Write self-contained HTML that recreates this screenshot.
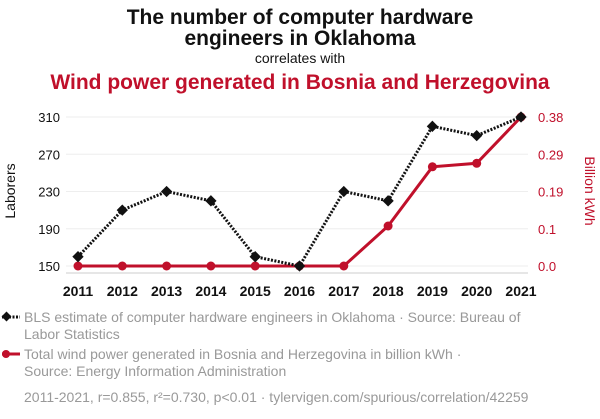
<!DOCTYPE html>
<html><head><meta charset="utf-8"><style>
body{margin:0;background:#fff;font-family:"Liberation Sans",sans-serif;}
svg text{font-family:"Liberation Sans",sans-serif;}
</style></head><body>
<svg width="600" height="414">
<text x="300" y="24" text-anchor="middle" font-size="21" font-weight="bold" fill="#111">The number of computer hardware</text>
<text x="300" y="45" text-anchor="middle" font-size="21" font-weight="bold" fill="#111">engineers in Oklahoma</text>
<text x="300" y="63" text-anchor="middle" font-size="14" fill="#111">correlates with</text>
<text x="300" y="89" text-anchor="middle" font-size="21" font-weight="bold" fill="#c0102b">Wind power generated in Bosnia and Herzegovina</text>
<g id="grid"></g>
<line x1="66" y1="273" x2="528" y2="273" stroke="#ccc"/>
<g id="marks"></g>
<text transform="translate(15,191) rotate(-90)" text-anchor="middle" font-size="14" fill="#111">Laborers</text>
<text transform="translate(585,191) rotate(90)" text-anchor="middle" font-size="14" fill="#c0102b">Billion kWh</text>
<g>
<line x1="2" y1="317" x2="20" y2="317" stroke="#111" stroke-width="3" stroke-dasharray="2,1.5"/>
<rect x="3" y="313" width="7" height="7" transform="rotate(45 6.5 316.5)" fill="#111"/>
<text x="24" y="322" font-size="14" fill="#999">BLS estimate of computer hardware engineers in Oklahoma · Source: Bureau of</text>
<text x="24" y="339" font-size="14" fill="#999">Labor Statistics</text>
</g>
<g>
<line x1="2" y1="354" x2="20" y2="354" stroke="#c0102b" stroke-width="3"/>
<circle cx="6" cy="354" r="4" fill="#c0102b"/>
<text x="24" y="359" font-size="14" fill="#999">Total wind power generated in Bosnia and Herzegovina in billion kWh ·</text>
<text x="24" y="376" font-size="14" fill="#999">Source: Energy Information Administration</text>
</g>
<text x="24" y="402" font-size="14" fill="#999">2011-2021, r=0.855, r²=0.730, p&lt;0.01 · tylervigen.com/spurious/correlation/42259</text>
</svg>
<script>
const years=[2011,2012,2013,2014,2015,2016,2017,2018,2019,2020,2021];
const laborers=[160,210,230,220,160,150,230,220,300,290,310];
const wind=[0,0,0,0,0,0,0,0.102,0.253,0.262,0.38];
const leftTicks=[150,190,230,270,310];
const rightTickLabels=["0.0","0.1","0.19","0.29","0.38"];
const NS="http://www.w3.org/2000/svg";
const x=y=>78+(y-2011)*(521-78)/10;
const yl=v=>266-(v-150)*(266-117)/160;
const yr=v=>266-v*(266-117)/0.38;
const svg=document.querySelector('svg'),grid=document.getElementById('grid'),marks=document.getElementById('marks');
function mk(t,a,p){const e=document.createElementNS(NS,t);for(const k in a)e.setAttribute(k,a[k]);(p||svg).appendChild(e);return e;}
leftTicks.forEach((v,i)=>{
 const g=mk('line',{x1:66,x2:528,y1:yl(v),y2:yl(v),stroke:'#eee'},grid);
 
 
 const t=mk('text',{x:60,y:yl(v)+5,'text-anchor':'end','font-size':13,fill:'#111'},grid);t.textContent=v;
 
 
 const r=mk('text',{x:538,y:yl(v)+5,'font-size':13,fill:'#c0102b'},grid);r.textContent=rightTickLabels[i];
 
 
});
years.forEach(yv=>{
 const t=mk('text',{x:x(yv),y:296,'text-anchor':'middle','font-size':14,'font-weight':'bold',fill:'#111'},grid);t.textContent=yv;
 
 
});
const rl=mk('polyline',{points:years.map((yv,i)=>x(yv)+','+yr(wind[i])).join(' '),fill:'none',stroke:'#c0102b','stroke-width':3},marks);


years.forEach((yv,i)=>{const c=mk('circle',{cx:x(yv),cy:yr(wind[i]),r:4.5,fill:'#c0102b'},marks);
 
 });
const bl=mk('polyline',{points:years.map((yv,i)=>x(yv)+','+yl(laborers[i])).join(' '),fill:'none',stroke:'#111','stroke-width':3,'stroke-dasharray':'2,1.5'},marks);


years.forEach((yv,i)=>{const cx=x(yv),cy=yl(laborers[i]);
 const d=mk('rect',{x:cx-4,y:cy-4,width:8,height:8,fill:'#111',transform:`rotate(45 ${cx} ${cy})`},marks);
 
 });
</script>
</body></html>
